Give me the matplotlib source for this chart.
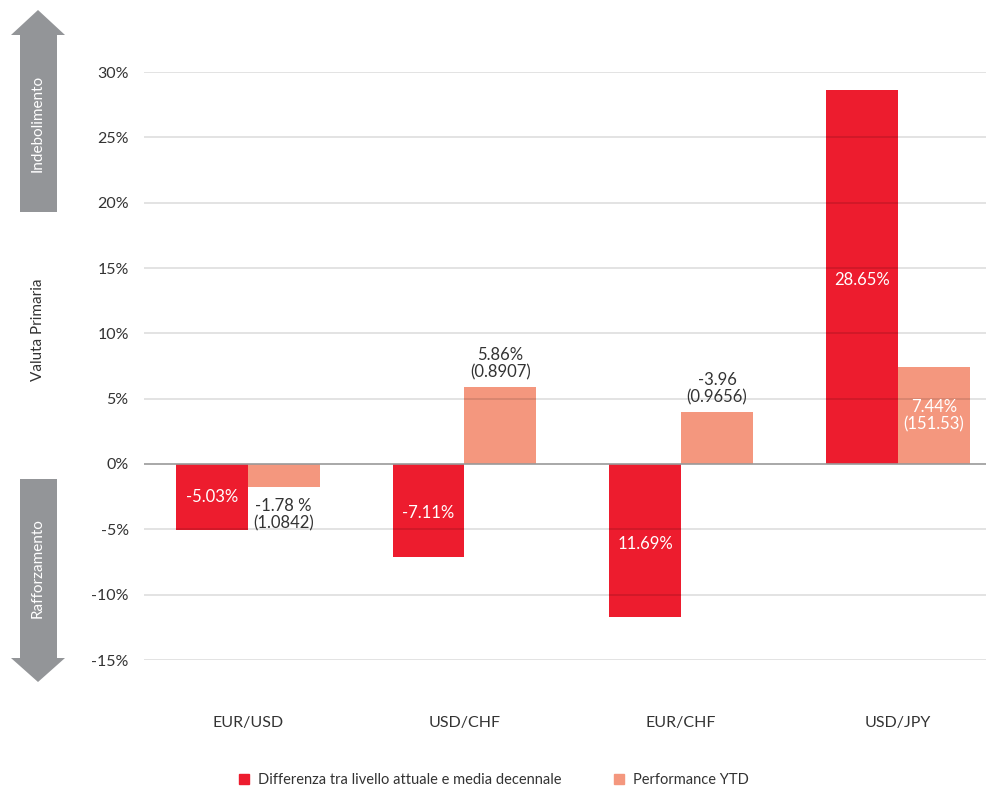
import numpy as np
import matplotlib.pyplot as plt
from matplotlib.patches import Polygon, Patch

plt.rcParams['font.family'] = ['Lato', 'DejaVu Sans']

pairs = ["EUR/USD", "USD/CHF", "EUR/CHF", "USD/JPY"]

# scostamento dalla media decennale (%)
diff_media = [-5.03, -7.11, -11.69, 28.65]
diff_labels = ["-5.03%", "-7.11%", "11.69%", "28.65%"]

# performance da inizio anno (%)
perf_ytd = [-1.78, 5.86, 3.96, 7.44]
perf_labels = ["-1.78 %\n(1.0842)", "5.86%\n(0.8907)", "-3.96\n(0.9656)", "7.44%\n(151.53)"]

yticks = [-15, -10, -5, 0, 5, 10, 15, 20, 25, 30]
ytick_labels = ["%d%%" % v for v in yticks]

red = "#ED1C2E"
salmon = "#F4977E"
txt = "#333333"

W, H = 987, 786
fig = plt.figure(figsize=(W / 100, H / 100), dpi=100)
ax = fig.add_axes([144 / W, 1 - 660 / H, 1 - 144 / W, (660 - 72) / H])

x = np.arange(len(pairs))
bw = 0.332
b1 = ax.bar(x - bw / 2, diff_media, bw, color=red, zorder=2)
b2 = ax.bar(x + bw / 2, perf_ytd, bw, color=salmon, zorder=2)

# griglia sopra le barre, semitrasparente
for v in yticks:
    if v == 0:
        ax.axhline(0, color="#999999", lw=1.2, zorder=4)
    else:
        ax.axhline(v, color="black", alpha=0.13, lw=1.2, zorder=3)

ax.set_xlim(-0.479, 3.412)
ax.set_ylim(-15, 30)
ax.set_yticks(yticks)
ax.set_yticklabels(ytick_labels)
ax.set_xticks(x)
ax.set_xticklabels(pairs)
ax.tick_params(axis="y", length=0, pad=11, labelsize=11.5, labelcolor=txt)
ax.tick_params(axis="x", length=0, pad=40, labelsize=11.5, labelcolor=txt)
for s in ax.spines.values():
    s.set_visible(False)

fs = 12
# etichette delle barre rosse (dentro la barra)
red_pos = [-2.5, -3.75, -6.15, 14.1]
for i, r in enumerate(b1):
    ax.text(r.get_x() + r.get_width() / 2, red_pos[i], diff_labels[i],
            ha="center", va="center", color="white", fontsize=fs, zorder=5)

# etichette delle barre salmone
kw = dict(ha="center", fontsize=fs, linespacing=1.1, zorder=5)
ax.text(b2[0].get_x() + bw / 2, perf_ytd[0] - 0.8, perf_labels[0], va="top", color=txt, **kw)
ax.text(b2[1].get_x() + bw / 2, perf_ytd[1] + 0.5, perf_labels[1], va="bottom", color=txt, **kw)
ax.text(b2[2].get_x() + bw / 2, perf_ytd[2] + 0.5, perf_labels[2], va="bottom", color=txt, **kw)
ax.text(b2[3].get_x() + bw / 2, perf_ytd[3] - 2.5, perf_labels[3], va="top", color="white", **kw)

# frecce laterali
ov = fig.add_axes([0, 0, 1, 1], zorder=-1)
ov.set_xlim(0, W)
ov.set_ylim(H, 0)
ov.axis("off")
grey = "#939598"
up = [(38, 10), (65, 35), (57, 35), (57, 212), (20, 212), (20, 35), (11, 35)]
down = [(20, 479), (57, 479), (57, 658), (65, 658), (38, 682), (11, 658), (20, 658)]
ov.add_patch(Polygon(up, closed=True, color=grey, lw=0))
ov.add_patch(Polygon(down, closed=True, color=grey, lw=0))
ov.text(38, 123, "Indebolimento", rotation=90, ha="center", va="center", color="white", fontsize=11)
ov.text(38, 568, "Rafforzamento", rotation=90, ha="center", va="center", color="white", fontsize=11)
ov.text(38, 330, "Valuta Primaria", rotation=90, ha="center", va="center", color=txt, fontsize=11)

handles = [Patch(color=red), Patch(color=salmon)]
fig.legend(handles, ["Differenza tra livello attuale e media decennale", "Performance YTD"],
           loc="lower center", bbox_to_anchor=(0.5, -0.018), ncol=2, frameon=False,
           fontsize=10.5, handlelength=0.7, handleheight=0.7, handletextpad=0.6,
           columnspacing=3.6, labelcolor=txt)

fig.savefig("out.png", dpi=100)
